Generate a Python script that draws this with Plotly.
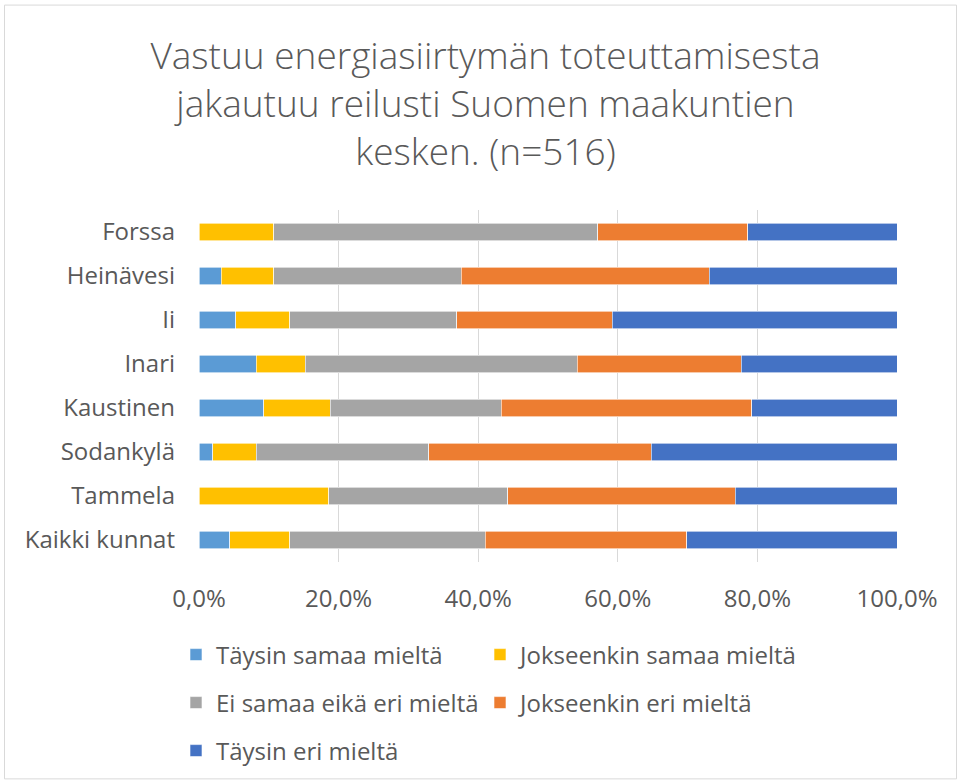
import plotly.graph_objects as go

categories = ["Forssa", "Heinävesi", "Ii", "Inari", "Kaustinen", "Sodankylä", "Tammela", "Kaikki kunnat"]
series_names = ["Täysin samaa mieltä", "Jokseenkin samaa mieltä", "Ei samaa eikä eri mieltä",
                "Jokseenkin eri mieltä", "Täysin eri mieltä"]
taysin_samaa = [0.0, 3.2, 5.3, 8.2, 9.3, 2.0, 0.0, 4.4]
jokseenkin_samaa = [10.7, 7.5, 7.7, 7.0, 9.5, 6.2, 18.6, 8.6]
ei_samaa_eika_eri = [46.4, 26.9, 23.9, 39.0, 24.5, 24.7, 25.6, 28.0]
jokseenkin_eri = [21.5, 35.5, 22.3, 23.5, 35.9, 31.9, 32.6, 28.9]
taysin_eri = [21.4, 26.9, 40.8, 22.3, 20.8, 35.2, 23.2, 30.1]
tick_values = [0, 20, 40, 60, 80, 100]
tick_labels = ["0,0%", "20,0%", "40,0%", "60,0%", "80,0%", "100,0%"]

series_values = [taysin_samaa, jokseenkin_samaa, ei_samaa_eika_eri, jokseenkin_eri, taysin_eri]
colors = ["#5B9BD5", "#FFC000", "#A5A5A5", "#ED7D31", "#4472C4"]
legend_ids = ["legend", "legend2", "legend3", "legend4", "legend5"]

txt = "#595959"
font_family = "Open Sans"

fig = go.Figure()
for name, vals, col, lg in zip(series_names, series_values, colors, legend_ids):
    fig.add_trace(go.Bar(
        y=categories, x=vals, name=name, orientation="h",
        marker=dict(color=col, line=dict(color="white", width=0.6)),
        legend=lg, showlegend=True,
    ))

W, H = 961, 784
L, R, T, B = 199, 64, 210, 221
pw, ph = W - L - R, H - T - B

def px_to_paper_x(px):
    return (px - L) / pw

def py_to_paper_y(py):
    return (H - B - py) / ph

leg_common = dict(orientation="v",
                  font=dict(size=24, color=txt, family=font_family),
                  xanchor="left", yanchor="middle", bgcolor="rgba(0,0,0,0)")

# legend grid: (column left px, row centre px)
legend_pos = [(176, 655), (480, 655), (176, 703), (480, 703), (176, 751)]
legend_layout = {}
for lg, (lx, ly) in zip(legend_ids, legend_pos):
    legend_layout[lg] = dict(x=px_to_paper_x(lx), y=py_to_paper_y(ly), **leg_common)

fig.update_layout(
    width=W, height=H,
    margin=dict(l=L, r=R, t=T, b=B),
    barmode="stack",
    bargap=0.6,
    showlegend=True,
    paper_bgcolor="white",
    plot_bgcolor="white",
    font=dict(family=font_family, color=txt),
    title=dict(
        text="Vastuu energiasiirtymän toteuttamisesta<br>jakautuu reilusti Suomen maakuntien<br>kesken. (n=516)",
        x=485.5 / W, xref="container", xanchor="center",
        y=1 - 69 / H, yref="container", yanchor="middle",
        font=dict(size=37, color=txt, family=font_family, weight=300),
    ),
    xaxis=dict(
        range=[0, 100], tickvals=tick_values, ticktext=tick_labels,
        showgrid=True, gridcolor="#D9D9D9", gridwidth=1.3,
        zeroline=False, showline=False,
        tickfont=dict(size=24, color=txt, family=font_family),
        ticklabelstandoff=20,
        fixedrange=True,
    ),
    yaxis=dict(
        categoryorder="array", categoryarray=categories, autorange="reversed",
        showgrid=False, zeroline=False, showline=False,
        tickfont=dict(size=24, color=txt, family=font_family),
        ticklabelstandoff=23,
    ),
    shapes=[dict(type="rect", xref="paper", yref="paper",
                 x0=px_to_paper_x(4.5), x1=px_to_paper_x(956.5),
                 y0=py_to_paper_y(780.5), y1=py_to_paper_y(4.5),
                 line=dict(color="#D9D9D9", width=1), fillcolor="rgba(0,0,0,0)", layer="below")],
    **legend_layout,
)

fig.write_html("out.html", config={"displayModeBar": False},
               post_script="document.body.style.margin='0';document.body.style.overflow='hidden';")
